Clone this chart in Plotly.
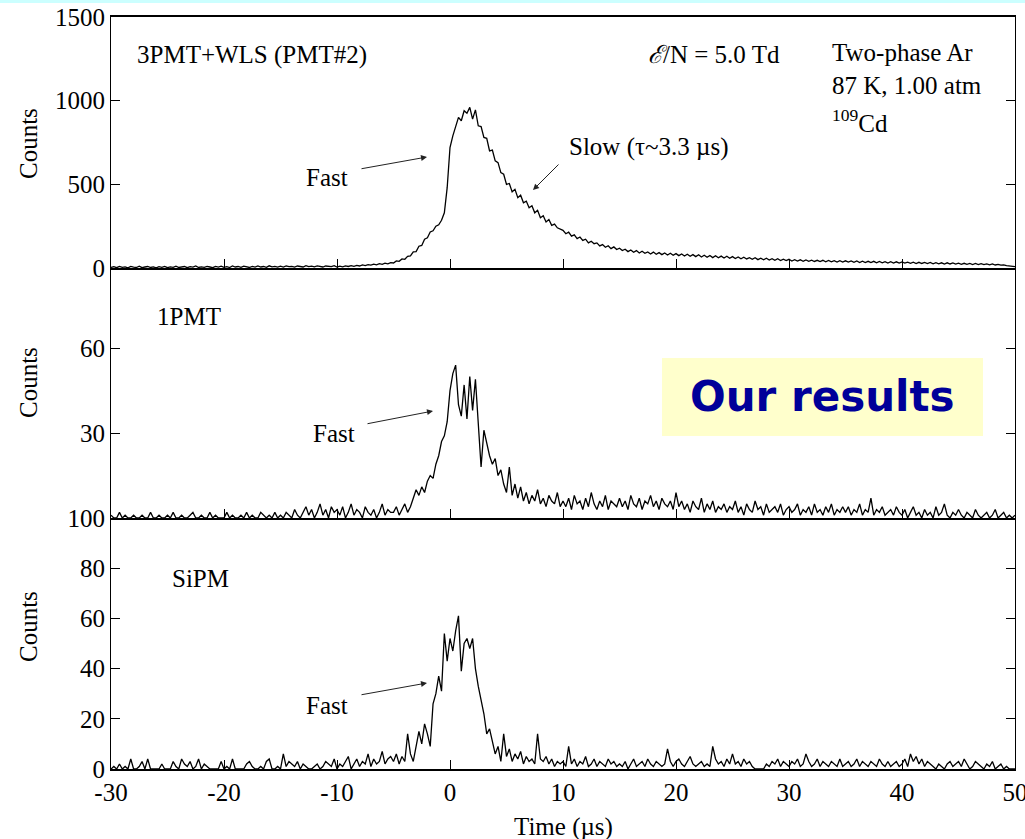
import numpy as np
import plotly.graph_objects as go

# ---------------- data (0.25 us bins starting at -30 us) ----------------
T_START = -30.0
T_STEP = 0.25

counts_3pmt = [
    3, 8, 2, 10, 4, 7, 1, 9, 5, 3, 11, 2, 6, 9, 3, 7, 1, 8, 4, 10,
    2, 7, 4, 11, 3, 6, 9, 2, 8, 5, 12, 3, 7, 4, 10, 6, 2, 9, 5, 11,
    4, 8, 3, 12, 6, 9, 4, 11, 7, 3, 10, 5, 12, 6, 9, 4, 13, 7, 10, 5,
    11, 6, 13, 8, 10, 5, 12, 9, 6, 14, 8, 11, 7, 13, 9, 6, 12, 10, 8, 14,
    6, 11, 7, 13, 9, 14, 10, 16, 12, 18, 14, 20, 17, 23, 19, 26, 22, 29, 25, 32,
    30, 42, 40, 54, 52, 70, 72, 96, 98, 130, 135, 172, 180, 215, 222, 250, 258, 285, 330, 480,
    720, 790, 840, 900, 880, 940, 925, 960, 890, 945, 850, 845, 780, 775, 700, 705, 640, 630, 570, 560,
    500, 505, 455, 470, 420, 435, 390, 400, 360, 372, 330, 345, 300, 312, 275, 290, 255, 262, 240, 232,
    225, 205, 214, 190, 198, 176, 185, 165, 172, 150, 160, 145, 150, 132, 140, 124, 133, 116, 126, 110,
    118, 104, 112, 98, 108, 94, 104, 90, 100, 88, 96, 84, 95, 82, 92, 80, 90, 78, 88, 76,
    86, 74, 84, 72, 82, 70, 80, 68, 79, 66, 76, 64, 75, 62, 73, 61, 71, 60, 70, 58,
    68, 57, 66, 55, 64, 54, 62, 52, 61, 50, 59, 49, 58, 48, 56, 46, 55, 45, 53, 44,
    52, 42, 50, 41, 49, 40, 48, 40, 47, 39, 46, 38, 46, 37, 45, 37, 44, 36, 44, 35,
    43, 35, 42, 34, 42, 33, 41, 33, 40, 32, 40, 31, 39, 31, 38, 30, 38, 30, 37, 29,
    36, 29, 35, 28, 35, 27, 34, 27, 33, 26, 33, 25, 32, 25, 31, 24, 31, 24, 30, 23,
    29, 22, 28, 22, 27, 21, 27, 20, 26, 20, 25, 19, 24, 18, 22, 17, 18, 14, 13, 10,
    8,
]

counts_1pmt = [
    1, 0, 0, 2, 0, 1, 0, 0, 1, 0, 0, 1, 0, 0, 2, 0, 0, 1, 0, 0,
    1, 0, 2, 0, 0, 1, 0, 0, 1, 2, 0, 0, 1, 0, 0, 2, 0, 1, 0, 0,
    0, 2, 0, 1, 0, 0, 1, 0, 2, 0, 1, 0, 0, 2, 1, 0, 1, 0, 2, 0,
    1, 0, 2, 1, 0, 3, 1, 0, 2, 4, 1, 3, 0, 2, 5, 1, 3, 0, 4, 2,
    3, 1, 4, 0, 2, 5, 1, 3, 2, 0, 4, 2, 1, 3, 0, 2, 5, 1, 3, 2,
    2, 4, 1, 3, 5, 2, 4, 7, 10, 8, 11, 9, 13, 15, 14, 19, 22, 27, 29, 34,
    45, 51, 54, 40, 36, 47, 35, 50, 38, 49, 34, 18, 31, 26, 22, 19, 21, 15, 17, 12,
    9, 18, 8, 12, 7, 11, 6, 9, 5, 8, 6, 10, 5, 7, 4, 8, 6, 5, 9, 4,
    6, 4, 7, 3, 8, 5, 6, 3, 7, 4, 9, 5, 3, 6, 4, 8, 3, 6, 5, 4,
    7, 4, 6, 3, 8, 5, 4, 7, 3, 6, 5, 8, 4, 6, 3, 7, 5, 4, 6, 3,
    9, 4, 6, 3, 5, 2, 6, 4, 3, 7, 2, 5, 3, 6, 2, 4, 3, 5, 2, 4,
    3, 6, 2, 4, 1, 5, 3, 2, 6, 3, 4, 1, 5, 2, 3, 4, 2, 5, 1, 3,
    4, 2, 3, 5, 1, 3, 2, 4, 1, 5, 2, 3, 1, 4, 2, 5, 1, 3, 2, 4,
    2, 4, 1, 3, 2, 5, 1, 3, 2, 7, 1, 3, 2, 4, 1, 2, 3, 1, 4, 2,
    1, 3, 0, 2, 4, 1, 2, 0, 3, 1, 2, 0, 4, 1, 2, 5, 1, 0, 2, 1,
    3, 1, 0, 2, 1, 0, 3, 1, 0, 1, 2, 0, 1, 3, 0, 1, 2, 0, 1, 0,
    1,
]

counts_sipm = [
    0, 1, 0, 2, 0, 1, 0, 4, 0, 0, 1, 3, 0, 4, 0, 0, 0, 0, 2, 0,
    0, 0, 3, 1, 0, 4, 2, 1, 3, 0, 1, 4, 0, 2, 1, 0, 0, 0, 0, 3,
    0, 1, 0, 4, 0, 0, 0, 0, 2, 3, 1, 0, 0, 1, 0, 3, 4, 0, 0, 1,
    0, 6, 1, 3, 2, 1, 3, 0, 2, 1, 0, 0, 1, 2, 0, 1, 3, 2, 1, 4,
    0, 2, 1, 3, 5, 0, 2, 4, 1, 3, 2, 6, 1, 4, 2, 3, 7, 2, 4, 5,
    3, 6, 2, 5, 3, 14, 6, 3, 9, 15, 10, 18, 14, 9, 26, 30, 37, 31, 54, 43,
    52, 47, 55, 61, 39, 50, 52, 48, 52, 40, 33, 28, 22, 14, 16, 11, 6, 9, 3, 14,
    5, 8, 3, 6, 4, 7, 2, 5, 3, 4, 2, 14, 4, 3, 5, 2, 4, 1, 3, 2,
    3, 1, 9, 2, 4, 1, 3, 2, 5, 1, 2, 4, 1, 3, 2, 1, 4, 2, 3, 1,
    2, 1, 3, 0, 2, 4, 1, 2, 3, 1, 4, 2, 1, 3, 2, 1, 2, 8, 3, 1,
    3, 4, 2, 1, 3, 5, 2, 1, 2, 3, 1, 2, 1, 9, 4, 2, 3, 1, 4, 2,
    6, 2, 3, 1, 4, 2, 3, 1, 0, 0, 0, 0, 2, 1, 3, 2, 4, 1, 3, 2,
    1, 3, 2, 4, 1, 2, 6, 3, 1, 2, 4, 1, 3, 2, 1, 3, 2, 1, 4, 1,
    2, 3, 1, 2, 4, 1, 3, 2, 1, 3, 2, 1, 4, 2, 1, 3, 1, 2, 3, 1,
    2, 4, 1, 6, 3, 5, 2, 4, 1, 3, 2, 1, 0, 2, 1, 0, 2, 3, 1, 2,
    3, 1, 4, 2, 0, 1, 3, 2, 1, 0, 2, 1, 3, 0, 1, 2, 0, 1, 0, 0,
    0,
]

x_ticks = [-30, -20, -10, 0, 10, 20, 30, 40, 50]
x_tick_labels = ["-30", "-20", "-10", "0", "10", "20", "30", "40", "50"]
y_ticks_top = [0, 500, 1000, 1500]
y_ticks_mid = [30, 60]
y_ticks_bot = [0, 20, 40, 60, 80, 100]

# ---------------- layout helpers ----------------
W, H = 1025, 839
ML, MR, MT, MB = 111, 10, 17, 70
PW, PH = W - ML - MR, H - MT - MB


def px(x):
    return (x - ML) / PW


def py(y):
    return (H - MB - y) / PH


SERIF = "Liberation Serif, Times New Roman, serif"
FS = 25


def times(n):
    return [T_START + T_STEP * i for i in range(n)]


fig = go.Figure()
for ys, xa, ya in [(counts_3pmt, "x", "y"), (counts_1pmt, "x2", "y2"), (counts_sipm, "x3", "y3")]:
    fig.add_trace(go.Scatter(x=times(len(ys)), y=ys, mode="lines",
                             line=dict(color="black", width=1.3),
                             xaxis=xa, yaxis=ya, showlegend=False, hoverinfo="skip"))

d_top = [py(268), 1.0]
d_mid = [py(518), py(268)]
d_bot = [0.0, py(518)]

common_x = dict(range=[-30, 50], tickvals=x_ticks, ticktext=x_tick_labels, ticks="inside",
                ticklen=9, tickwidth=1,
                tickcolor="black", showline=True, linecolor="black", linewidth=1.5,
                showgrid=False, zeroline=False, automargin=False,
                tickfont=dict(family=SERIF, size=FS, color="black"))
common_y = dict(ticks="inside", ticklen=9, tickwidth=1, tickcolor="black", showline=True,
                linecolor="black", linewidth=1.2, mirror="ticks", showgrid=False,
                zeroline=False, automargin=False,
                tickfont=dict(family=SERIF, size=FS, color="black"))

fig.update_layout(
    template="none",
    width=W, height=H, margin=dict(l=ML, r=MR, t=MT, b=MB, autoexpand=False),
    paper_bgcolor="white", plot_bgcolor="white",
    xaxis=dict(**common_x, domain=[0, 1], anchor="y", showticklabels=False, mirror=True),
    xaxis2=dict(**common_x, domain=[0, 1], anchor="y2", showticklabels=False, matches="x"),
    xaxis3=dict(**common_x, domain=[0, 1], anchor="y3", showticklabels=True, matches="x",
                ticklabeloverflow="allow"),
    yaxis=dict(**common_y, domain=d_top, anchor="x", range=[0, 1500], tickvals=y_ticks_top,
               ticklabeloverflow="allow"),
    yaxis2=dict(**common_y, domain=d_mid, anchor="x2", range=[0, 88.3], tickvals=y_ticks_mid),
    yaxis3=dict(**common_y, domain=d_bot, anchor="x3", range=[0, 100], tickvals=y_ticks_bot),
)

ann = []


def text(x, y, s, xanchor="left", size=FS, **kw):
    ann.append(dict(x=px(x), y=py(y), xref="paper", yref="paper", text=s, showarrow=False,
                    xanchor=xanchor, yanchor="middle",
                    font=dict(family=SERIF, size=size, color="black"), **kw))


def arrow(x0, y0, x1, y1):
    ann.append(dict(x=px(x1), y=py(y1), xref="paper", yref="paper", text="",
                    showarrow=True, arrowhead=2, arrowsize=1.2, arrowwidth=1,
                    arrowcolor="#222", ax=x0 - x1, ay=y0 - y1))


# y titles
for yc in [144, 383, 627]:
    text(28, yc, "Counts", xanchor="center", textangle=-90)
# x title
text(563, 827, "Time (\u00b5s)", xanchor="center")

# panel texts
text(135, 55, "3PMT+WLS (PMT#2)")
text(646, 55, "<i>\u2130</i>/N = 5.0 Td")
text(830, 52, "Two-phase Ar")
text(830, 85, "87 K, 1.00 atm")
text(830, 121, "<sup>109</sup>Cd")
text(327, 178, "Fast", xanchor="center")
arrow(360, 169, 427, 157)
text(567, 147, "Slow (\u03c4~3.3 \u00b5s)")
arrow(560, 163, 533, 190)

text(155, 316, "1PMT")
text(334, 433, "Fast", xanchor="center")
arrow(366, 424, 433, 411)

text(170, 578, "SiPM")
text(327, 705, "Fast", xanchor="center")
arrow(360, 695, 427, 683)

# "Our results" label
ann.append(dict(x=px(822), y=py(397), xref="paper", yref="paper",
                text="<b>Our results</b>", showarrow=False, xanchor="center", yanchor="middle",
                font=dict(family="Comic Sans MS, DejaVu Sans, sans-serif", size=42, color="#000099")))

fig.update_layout(annotations=ann)

fig.update_layout(shapes=[
    dict(type="rect", xref="paper", yref="paper", x0=px(662), x1=px(983), y0=py(436), y1=py(358),
         fillcolor="#FFFFCC", line=dict(width=0), layer="below"),
    dict(type="rect", xref="paper", yref="paper", x0=px(0), x1=px(W), y0=py(3), y1=py(0),
         fillcolor="#CCFFFF", line=dict(width=0), layer="above"),
])

fig.write_html("out.html")
